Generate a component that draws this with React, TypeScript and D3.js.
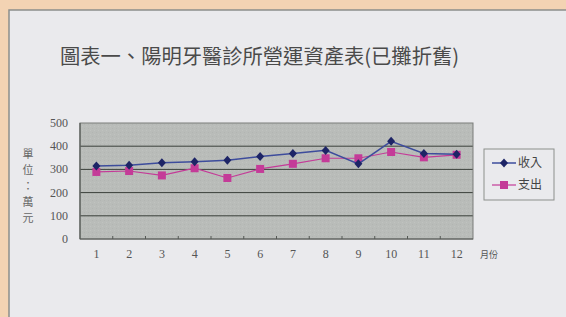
import React from "react";
import * as d3 from "d3";

const months = ["1", "2", "3", "4", "5", "6", "7", "8", "9", "10", "11", "12"];
const income = [315, 318, 329, 333, 339, 356, 369, 382, 324, 421, 369, 365];
const expense = [289, 293, 274, 305, 263, 302, 324, 348, 348, 375, 352, 363];
const yTicks = [0, 100, 200, 300, 400, 500];
const title = "圖表一、陽明牙醫診所營運資產表(已攤折舊)";
const yTitle = ["單", "位", "：", "萬", "元"];
const xTitle = "月份";
const seriesNames = ["收入", "支出"];

export default function App() {
  const W = 566, H = 317;
  const left = 80, right = 473, top = 123, bottom = 239;
  const x = d3.scaleBand<string>().domain(months).range([left, right]);
  const y = d3.scaleLinear().domain([0, 500]).range([bottom, top]);
  const cx = (m: string) => (x(m) as number) + x.bandwidth() / 2;
  const line = d3.line<number>().x((_, i) => cx(months[i])).y((v) => y(v));
  const serif = "'Liberation Serif', 'DejaVu Serif', serif";
  const cjk = "'Noto Sans CJK TC', 'Noto Sans CJK SC', sans-serif";
  const incLine = "#3d4c9c";
  const incMark = "#1d2466";
  const expCol = "#c43b98";

  return (
    <svg width={W} height={H} style={{ position: "absolute", left: 0, top: 0 }}>
      <defs>
        <pattern id="tex" width="4" height="4" patternUnits="userSpaceOnUse">
          <rect width="4" height="4" fill="#b9bcb9" />
          <rect x="0" y="0" width="1" height="1" fill="#b2b5b2" />
          <rect x="2" y="2" width="1" height="1" fill="#c0c3c0" />
        </pattern>
      </defs>
      <rect width={W} height={H} fill="#f3d3b3" />
      <rect x={9} y={10} width={W} height={H} fill="#eaeaed" stroke="#8c8f8c" strokeWidth={1.5} />
      <text x={60} y={64} fontFamily={cjk} fontSize={20.3} fill="#4a4a4a">{title}</text>

      <rect x={left} y={top} width={right - left} height={bottom - top} fill="url(#tex)" />
      {yTicks.map((t) => (
        <g key={t}>
          {t > 0 && t < 500 && (
            <line x1={left} x2={right} y1={y(t)} y2={y(t)} stroke="#3b403b" strokeWidth={1} />
          )}
          <text x={68} y={y(t) + 4} textAnchor="end" fontFamily={serif} fontSize={12} fill="#555">{t}</text>
        </g>
      ))}
      <rect x={left} y={top} width={right - left} height={bottom - top} fill="none" stroke="#7a7d7a" strokeWidth={1} />
      <line x1={left} x2={right} y1={bottom} y2={bottom} stroke="#555955" strokeWidth={1.2} />
      <line x1={left} x2={left} y1={top} y2={bottom} stroke="#555955" strokeWidth={1.2} />
      {months.slice(1).map((m) => (
        <line key={m} x1={x(m) as number} x2={x(m) as number} y1={bottom} y2={bottom - 3} stroke="#555955" />
      ))}
      {months.map((m) => (
        <text key={m} x={cx(m)} y={258} textAnchor="middle" fontFamily={serif} fontSize={12} fill="#555">{m}</text>
      ))}
      <text x={480} y={258} fontFamily={cjk} fontSize={9} fill="#555">{xTitle}</text>
      {yTitle.map((c, i) => (
        <text key={i} x={28} y={158 + i * 16} textAnchor="middle" fontFamily={cjk} fontSize={11} fill="#666">{c}</text>
      ))}

      <path d={line(expense) || ""} fill="none" stroke={expCol} strokeWidth={1.2} />
      {expense.map((v, i) => (
        <rect key={i} x={cx(months[i]) - 4} y={y(v) - 4} width={8} height={8} fill={expCol} />
      ))}
      <path d={line(income) || ""} fill="none" stroke={incLine} strokeWidth={1.5} />
      {income.map((v, i) => (
        <path key={i} d={`M${cx(months[i])},${y(v) - 4.5}l4,4.5l-4,4.5l-4,-4.5z`} fill={incMark} />
      ))}

      <rect x={484} y={149} width={70} height={51} fill="#eaeaed" stroke="#8c8f8c" strokeWidth={1} />
      <line x1={492} x2={516} y1={163} y2={163} stroke={incLine} strokeWidth={1.5} />
      <path d={`M504,158.5l4,4.5l-4,4.5l-4,-4.5z`} fill={incMark} />
      <text x={518} y={167} fontFamily={cjk} fontSize={12} fill="#444">{seriesNames[0]}</text>
      <line x1={492} x2={516} y1={185} y2={185} stroke={expCol} strokeWidth={1.2} />
      <rect x={500} y={181} width={8} height={8} fill={expCol} />
      <text x={518} y={189} fontFamily={cjk} fontSize={12} fill="#444">{seriesNames[1]}</text>
    </svg>
  );
}
